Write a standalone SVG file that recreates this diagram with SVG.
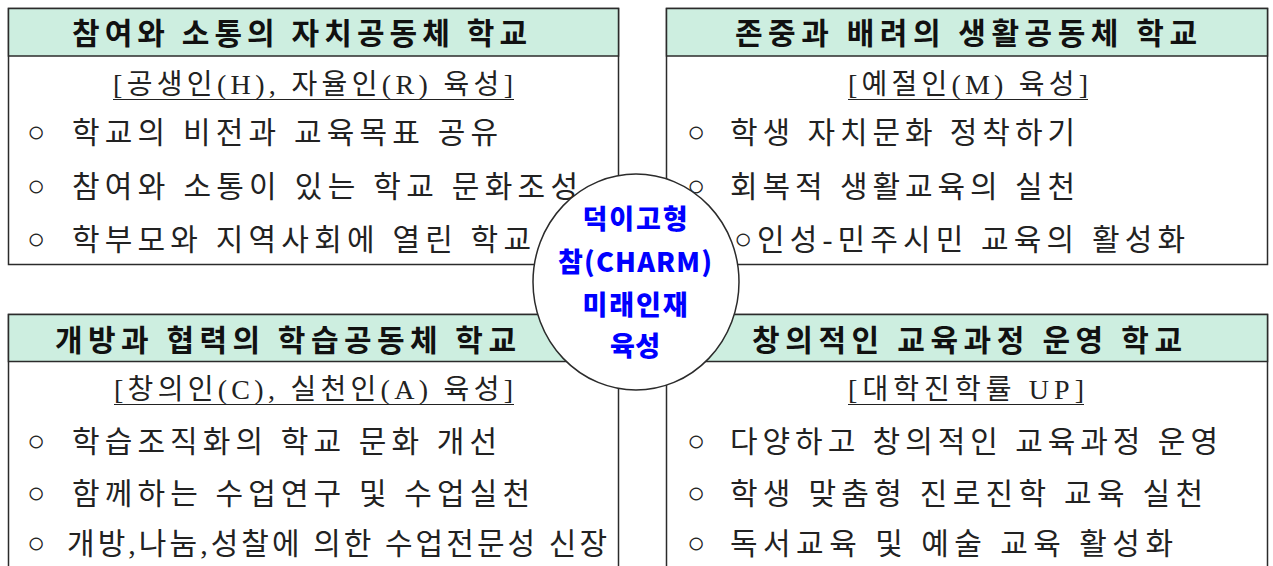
<svg xmlns="http://www.w3.org/2000/svg" width="1273" height="566" viewBox="0 0 1273 566">
<style>
.box{fill:#ffffff;stroke:#2b2b2b;stroke-width:1.5}
.band{fill:#cdeee0;stroke:#2b2b2b;stroke-width:1.5}
.hd{font-family:'Noto Sans CJK KR','Noto Sans',sans-serif;font-size:30px;font-weight:700;fill:#111}
.sub{font-family:'Liberation Serif','Noto Sans CJK KR',serif;font-size:28px;fill:#222}
.bl{font-family:'Liberation Serif','Noto Sans CJK KR',serif;font-size:30px;fill:#222}
.dot{font-family:'Liberation Sans',sans-serif;font-size:30px;fill:#222}
.ul{stroke:#222;stroke-width:1.2}
.ct{font-family:'Noto Sans CJK KR',sans-serif;font-size:27px;font-weight:900;fill:#0000ff}
</style>
<g id="node-tl">
<rect class="box" x="8.5" y="8.5" width="610" height="256"/>
<rect class="band" x="8.5" y="8.5" width="610" height="47.5"/>
<text class="hd" x="72" y="44" textLength="455" lengthAdjust="spacing">참여와 소통의 자치공동체 학교</text>
<text class="sub" x="113" y="94" textLength="400" lengthAdjust="spacing">[공생인(H), 자율인(R) 육성]</text>
<line class="ul" x1="113" y1="99.5" x2="514" y2="99.5"/>
<text class="dot" x="27" y="142">○</text>
<text class="bl" x="72" y="143" textLength="426" lengthAdjust="spacing">학교의 비전과 교육목표 공유</text>
<text class="dot" x="27" y="196">○</text>
<text class="bl" x="72" y="197" textLength="506" lengthAdjust="spacing">참여와 소통이 있는 학교 문화조성</text>
<text class="dot" x="27" y="249">○</text>
<text class="bl" x="72" y="250" textLength="459" lengthAdjust="spacing">학부모와 지역사회에 열린 학교</text>
</g>
<g id="node-tr">
<rect class="box" x="666.5" y="8.5" width="601" height="256"/>
<rect class="band" x="666.5" y="8.5" width="601" height="47.5"/>
<text class="hd" x="735" y="44" textLength="462" lengthAdjust="spacing">존중과 배려의 생활공동체 학교</text>
<text class="sub" x="848" y="94" textLength="240" lengthAdjust="spacing">[예절인(M) 육성]</text>
<line class="ul" x1="848" y1="99.5" x2="1088" y2="99.5"/>
<text class="dot" x="687" y="142">○</text>
<text class="bl" x="730" y="143" textLength="345" lengthAdjust="spacing">학생 자치문화 정착하기</text>
<text class="dot" x="687" y="196">○</text>
<text class="bl" x="730" y="197" textLength="345" lengthAdjust="spacing">회복적 생활교육의 실천</text>
<text class="dot" x="734" y="249">○</text>
<text class="bl" x="757" y="250" textLength="428" lengthAdjust="spacing">인성-민주시민 교육의 활성화</text>
</g>
<g id="node-bl">
<rect class="box" x="8.5" y="314.5" width="610" height="260"/>
<rect class="band" x="8.5" y="314.5" width="610" height="47"/>
<text class="hd" x="55" y="351" textLength="461" lengthAdjust="spacing">개방과 협력의 학습공동체 학교</text>
<text class="sub" x="114" y="399" textLength="399" lengthAdjust="spacing">[창의인(C), 실천인(A) 육성]</text>
<line class="ul" x1="114" y1="404.5" x2="514" y2="404.5"/>
<text class="dot" x="27" y="451">○</text>
<text class="bl" x="72" y="452" textLength="425" lengthAdjust="spacing">학습조직화의 학교 문화 개선</text>
<text class="dot" x="27" y="503">○</text>
<text class="bl" x="72" y="504" textLength="458" lengthAdjust="spacing">함께하는 수업연구 및 수업실천</text>
<text class="dot" x="27" y="553">○</text>
<text class="bl" x="67" y="554" textLength="540" lengthAdjust="spacing">개방,나눔,성찰에 의한 수업전문성 신장</text>
</g>
<g id="node-br">
<rect class="box" x="666.5" y="314.5" width="601" height="260"/>
<rect class="band" x="666.5" y="314.5" width="601" height="47"/>
<text class="hd" x="752" y="351" textLength="430" lengthAdjust="spacing">창의적인 교육과정 운영 학교</text>
<text class="sub" x="848" y="399" textLength="236" lengthAdjust="spacing">[대학진학률 UP]</text>
<line class="ul" x1="848" y1="404.5" x2="1084" y2="404.5"/>
<text class="dot" x="687" y="451">○</text>
<text class="bl" x="730" y="452" textLength="488" lengthAdjust="spacing">다양하고 창의적인 교육과정 운영</text>
<text class="dot" x="687" y="503">○</text>
<text class="bl" x="730" y="504" textLength="473" lengthAdjust="spacing">학생 맞춤형 진로진학 교육 실천</text>
<text class="dot" x="687" y="553">○</text>
<text class="bl" x="730" y="554" textLength="443" lengthAdjust="spacing">독서교육 및 예술 교육 활성화</text>
</g>
<g id="connectors"></g>
<g id="node-center">
<ellipse cx="636" cy="282" rx="103" ry="108" fill="#ffffff" stroke="#2b2b2b" stroke-width="1.5"/>
<text class="ct" x="635" y="229" text-anchor="middle" textLength="105" lengthAdjust="spacing">덕이고형</text>
<text class="ct" x="635" y="272" text-anchor="middle" textLength="154" lengthAdjust="spacing">참(CHARM)</text>
<text class="ct" x="635" y="315" text-anchor="middle" textLength="105" lengthAdjust="spacing">미래인재</text>
<text class="ct" x="635" y="356" text-anchor="middle" textLength="50" lengthAdjust="spacing">육성</text>
</g>
</svg>
